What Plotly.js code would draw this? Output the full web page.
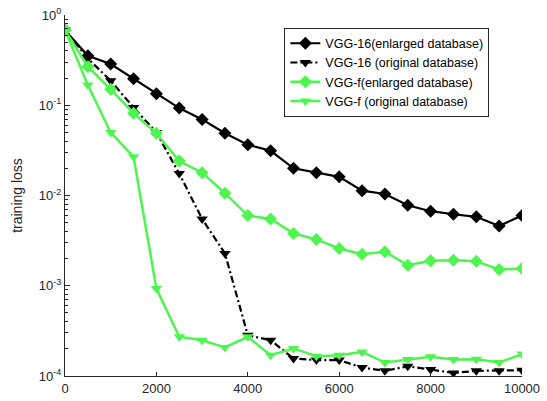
<!DOCTYPE html>
<html>
<head>
<meta charset="utf-8">
<script src="https://cdn.plot.ly/plotly-3.0.1.min.js"></script>
<style>html,body{margin:0;padding:0;background:#fff;}#chart{width:547px;height:401px;}</style>
</head>
<body>
<div id="chart"></div>
<script>
const iterations = [0,500,1000,1500,2000,2500,3000,3500,4000,4500,5000,5500,6000,6500,7000,7500,8000,8500,9000,9500,10000];
const vgg16Enlarged = [0.68,0.354,0.286,0.197,0.134,0.093,0.0697,0.0489,0.0365,0.0313,0.020,0.0179,0.0161,0.0113,0.0104,0.0078,0.0067,0.0062,0.0058,0.0046,0.0060];
const vgg16Original = [0.68,0.33,0.187,0.0946,0.050,0.0175,0.0055,0.00228,0.000283,0.000249,0.000156,0.000150,0.000150,0.000124,0.000114,0.000128,0.000118,0.000108,0.000114,0.000114,0.000116];
const vggfEnlarged = [0.68,0.267,0.150,0.0813,0.0489,0.0241,0.0179,0.0106,0.0060,0.0055,0.0038,0.00326,0.00259,0.00224,0.00238,0.00169,0.00189,0.00192,0.00187,0.00151,0.00155];
const vggfOriginal = [0.68,0.168,0.050,0.0269,0.00093,0.000272,0.000249,0.000207,0.000272,0.00017,0.000202,0.000166,0.00017,0.000185,0.000141,0.000152,0.000163,0.000152,0.000153,0.000141,0.000175];
const seriesNames = ["VGG-16(enlarged database)","VGG-16 (original database)","VGG-f(enlarged database)","VGG-f (original database)"];
const xTicks = [0,2000,4000,6000,8000,10000];
const yTickVals = [1e-4,1e-3,1e-2,1e-1,1];
const yTickText = ["10<sup>-4</sup>","10<sup>-3</sup>","10<sup>-2</sup>","10<sup>-1</sup>","10<sup>0</sup>"];

const green = '#4ff54f';
const minorVals = [];
for (let e = -4; e < 0; e++) for (let m = 2; m <= 9; m++) minorVals.push(m * Math.pow(10, e));

const traces = [
  {x: iterations, y: vgg16Enlarged, name: seriesNames[0], mode: 'lines+markers',
   line: {color: '#000', width: 2.2}, marker: {symbol: 'diamond', size: 10, color: '#000'}},
  {x: iterations, y: vgg16Original, name: seriesNames[1], mode: 'lines+markers',
   line: {color: '#000', width: 2.2, dash: '7px,3px,2px,3px'}, marker: {symbol: 'triangle-down', size: 10, color: '#000'}},
  {x: iterations, y: vggfEnlarged, name: seriesNames[2], mode: 'lines+markers',
   line: {color: green, width: 2.5}, marker: {symbol: 'diamond', size: 10, color: green}},
  {x: iterations, y: vggfOriginal, name: seriesNames[3], mode: 'lines+markers',
   line: {color: green, width: 2.5}, marker: {symbol: 'triangle-down', size: 10, color: green}}
];

const layout = {
  width: 547, height: 401,
  margin: {l: 65, r: 25, t: 15, b: 25, pad: 0},
  paper_bgcolor: '#fff', plot_bgcolor: '#fff',
  font: {family: 'Liberation Sans, Arial, sans-serif', size: 13, color: '#262626'},
  showlegend: true,
  legend: {x: 0.48, y: 0.965, xanchor: 'left', yanchor: 'top', bgcolor: '#fff',
           bordercolor: '#262626', borderwidth: 1, font: {size: 12.5, color: '#000'},
           tracegroupgap: 0, itemwidth: 30},
  xaxis: {range: [0, 10000], tickmode: 'array', tickvals: xTicks, ticktext: xTicks.map(String),
          ticks: 'inside', ticklen: 4, tickcolor: '#262626', showgrid: false, zeroline: false,
          showline: true, linecolor: '#262626', linewidth: 1, tickfont: {size: 13, color: '#262626'}},
  yaxis: {type: 'log', range: [-4, 0], tickmode: 'array', tickvals: yTickVals, ticktext: yTickText,
          ticks: 'inside', ticklen: 5, tickcolor: '#262626', showgrid: false, zeroline: false,
          showline: true, linecolor: '#262626', linewidth: 1, tickfont: {size: 13, color: '#262626'},
          minor: {tickmode: 'array', tickvals: minorVals, ticks: 'inside', ticklen: 3, tickcolor: '#262626', showgrid: false},
          title: {text: 'training loss', font: {size: 14, color: '#262626'}, standoff: 12}}
};

Plotly.newPlot('chart', traces, layout, {displayModeBar: false, staticPlot: true});
</script>
</body>
</html>
